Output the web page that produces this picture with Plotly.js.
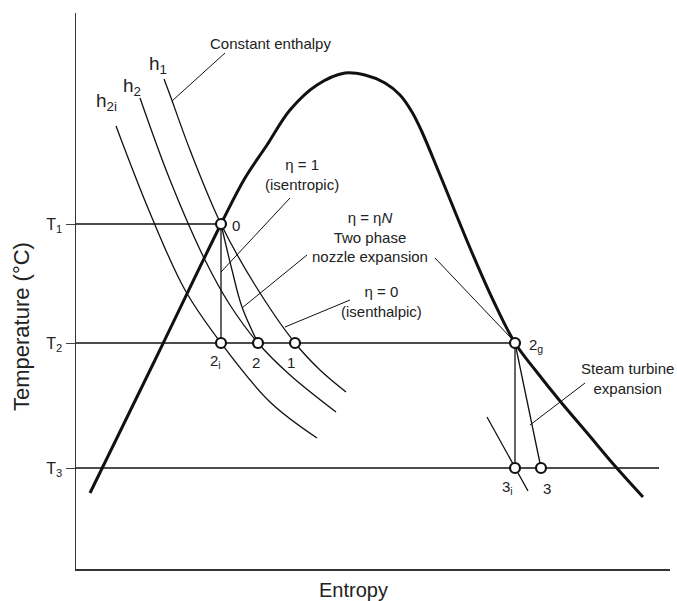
<!DOCTYPE html>
<html><head><meta charset="utf-8">
<script src="https://cdn.plot.ly/plotly-3.0.1.min.js"></script>
<style>html,body{margin:0;padding:0;background:#fff}</style>
</head><body>
<div id="chart" style="width:677px;height:601px"></div>
<script>
// Schematic T–s diagram (arbitrary units)
const domeS = [14, 80, 145, 169, 191, 214, 241, 269, 289, 309, 324, 336, 346, 364, 397, 417, 439, 460, 484, 512, 539, 567];
const domeT = [76, 211, 345, 391, 424, 459, 484, 496, 494, 486, 474, 457, 437, 394, 314, 269, 226, 198, 168, 135, 103, 72];

const h1S = [88, 94, 114, 145, 179, 219, 244, 270];
const h1T = [490, 474, 419, 345, 284, 226, 199, 177];
const h2S = [64, 94, 129, 154, 182, 214, 260];
const h2T = [471, 389, 309, 264, 226, 194, 157];
const h2iS = [40, 74, 109, 145, 194, 241];
const h2iT = [443, 356, 279, 226, 167, 131];
const h3iS = [411, 452];
const h3iT = [152, 78];

const nozzleS = [145, 156, 166, 182];
const nozzleT = [345, 299, 262, 226];

const levelLabels = ['T<sub>1</sub>', 'T<sub>2</sub>', 'T<sub>3</sub>'];
const levelT = [345, 226, 101];
const levelEndS = [145, 439, 583];

const pointNames = ['0', '2<sub>i</sub>', '2', '1', '2<sub>g</sub>', '3<sub>i</sub>', '3'];
const pointS = [145, 145, 182, 219, 439, 439, 465];
const pointT = [345, 226, 226, 226, 226, 101, 101];

const leaderS = [149, 96, null, 214, 145, null, 231, 166, null, 359, 435, null, 274, 209, null, 509, 454];
const leaderT = [516, 468, null, 371, 297, null, 314, 261, null, 311, 231, null, 269, 242, null, 186, 144];

const noteTexts = ['Constant enthalpy', 'η = 1<br>(isentropic)', 'η = η<i>N</i><br>Two phase<br>nozzle expansion',
                   'η = 0<br>(isenthalpic)', 'Steam turbine<br>expansion'];
const noteS = [194, 226, 294, 305, 551];
const noteT = [526, 395, 332, 268, 191];

const hNames = ['h<sub>1</sub>', 'h<sub>2</sub>', 'h<sub>2i</sub>'];
const hLabelS = [82, 56, 30];
const hLabelT = [504, 482, 467];

// point label positions
const plabS = [160, 139, 180, 215, 460, 431, 471];
const plabT = [344, 208, 207, 207, 224, 82, 81];

const FONT = 'Liberation Sans, Arial, Helvetica, sans-serif';
const INK = '#111';
const thin = {color: INK, width: 1.3};

const traces = [];
// isotherms
levelT.forEach((t, i) => {
  traces.push({x: [0, levelEndS[i]], y: [t, t], mode: 'lines', line: thin, hoverinfo: 'skip'});
});
// enthalpy lines
[[h1S, h1T], [h2S, h2T], [h2iS, h2iT]].forEach(([s, t]) => {
  traces.push({x: s, y: t, mode: 'lines', line: {color: INK, width: 1.3, shape: 'spline', smoothing: 1}, hoverinfo: 'skip'});
});
traces.push({x: h3iS, y: h3iT, mode: 'lines', line: thin, hoverinfo: 'skip'});
// isentropic 0 -> 2i
traces.push({x: [pointS[0], pointS[1]], y: [pointT[0], pointT[1]], mode: 'lines', line: thin, hoverinfo: 'skip'});
// nozzle expansion 0 -> 2
traces.push({x: nozzleS, y: nozzleT, mode: 'lines', line: {color: INK, width: 1.3, shape: 'spline'}, hoverinfo: 'skip'});
// turbine expansions 2g -> 3i, 2g -> 3
traces.push({x: [pointS[4], pointS[5]], y: [pointT[4], pointT[5]], mode: 'lines', line: thin, hoverinfo: 'skip'});
traces.push({x: [pointS[4], pointS[6]], y: [pointT[4], pointT[6]], mode: 'lines', line: thin, hoverinfo: 'skip'});
// leaders
traces.push({x: leaderS, y: leaderT, mode: 'lines', line: {color: INK, width: 1}, connectgaps: false, hoverinfo: 'skip'});
// saturation dome
traces.push({x: domeS, y: domeT, mode: 'lines', line: {color: '#111', width: 3, shape: 'spline', smoothing: 1}, hoverinfo: 'skip'});
// state points
traces.push({x: pointS, y: pointT, mode: 'markers', cliponaxis: false,
  marker: {symbol: 'circle', size: 10, color: '#fff', line: {color: '#111', width: 2.2}}, hoverinfo: 'skip'});

const annotations = [];
noteTexts.forEach((txt, i) => annotations.push({x: noteS[i], y: noteT[i], xref: 'x', yref: 'y', text: txt,
  showarrow: false, xanchor: 'center', yanchor: 'middle', align: 'center', font: {family: FONT, size: 15, color: '#222'}}));
hNames.forEach((txt, i) => annotations.push({x: hLabelS[i], y: hLabelT[i], xref: 'x', yref: 'y', text: txt,
  showarrow: false, xanchor: 'center', yanchor: 'middle', font: {family: FONT, size: 19, color: '#222'}}));
pointNames.forEach((txt, i) => annotations.push({x: plabS[i], y: plabT[i], xref: 'x', yref: 'y', text: txt,
  showarrow: false, xanchor: 'center', yanchor: 'middle', font: {family: FONT, size: 15, color: '#222'}}));
annotations.push({x: 0.468, y: -0.038, xref: 'paper', yref: 'paper', text: 'Entropy', showarrow: false,
  xanchor: 'center', yanchor: 'middle', font: {family: FONT, size: 20, color: '#222'}});
annotations.push({x: -0.0926, y: 0.437, xref: 'paper', yref: 'paper', text: 'Temperature (°C)', showarrow: false,
  textangle: -90, xanchor: 'center', yanchor: 'middle', font: {family: FONT, size: 22, color: '#222'}});

const layout = {
  width: 677, height: 601,
  margin: {l: 76, r: 7, t: 13, b: 32},
  paper_bgcolor: '#fff', plot_bgcolor: '#fff',
  showlegend: false,
  xaxis: {range: [0, 594], showgrid: false, zeroline: false, showticklabels: false, ticks: '',
          showline: true, linecolor: '#333', linewidth: 1.5, fixedrange: true},
  yaxis: {range: [0, 556], showgrid: false, zeroline: false, showline: true, linecolor: '#333', linewidth: 1.5,
          tickmode: 'array', tickvals: levelT, ticktext: levelLabels, ticks: 'outside', ticklen: 9,
          tickcolor: '#444', tickwidth: 1, tickfont: {family: FONT, size: 16, color: '#222'}, fixedrange: true},
  annotations: annotations
};

Plotly.newPlot('chart', traces, layout, {displayModeBar: false, staticPlot: true});
</script>
</body></html>
